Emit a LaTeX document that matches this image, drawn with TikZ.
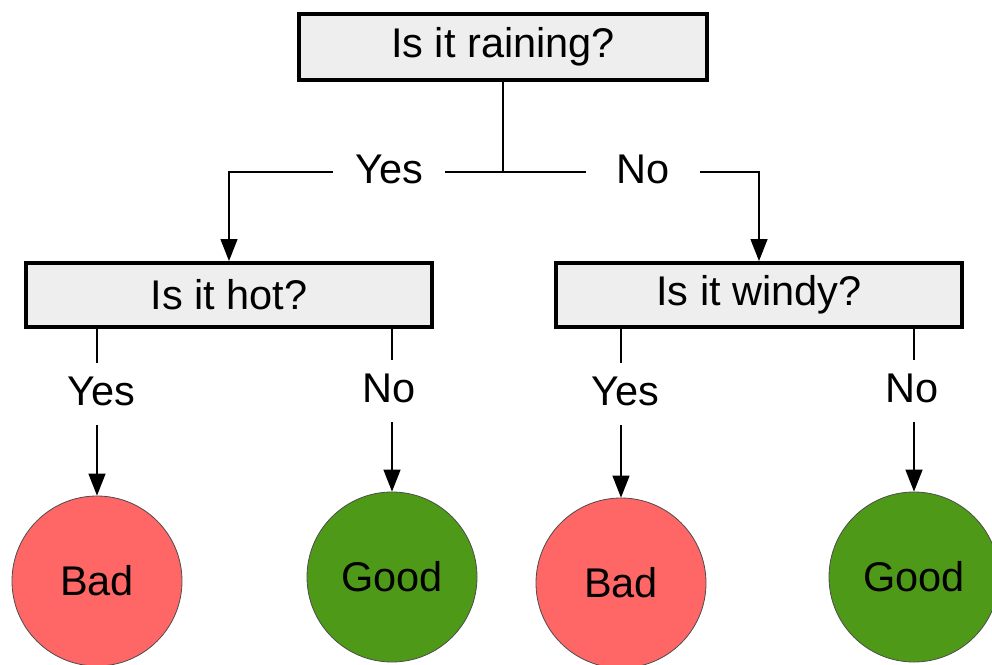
\documentclass[tikz,border=0pt]{standalone}
\usepackage{fontspec}
\setmainfont{Liberation Sans}
\usetikzlibrary{arrows.meta}
\definecolor{boxgray}{HTML}{EEEEEE}
\definecolor{badred}{HTML}{FF6666}
\definecolor{goodgreen}{HTML}{4E9A18}
\tikzset{
  bigfont/.style={font=\fontsize{41.5}{48}\selectfont},
  qbox/.style={draw=black, line width=4pt, fill=boxgray, minimum height=64pt, inner sep=0pt, bigfont},
  lbl/.style={bigfont, text height=26pt, text depth=4pt, inner xsep=22pt, inner ysep=16pt},
  leaf/.style={circle, draw=black!70, line width=0.8pt, minimum size=170pt, inner sep=0pt, bigfont},
  conn/.style={line width=1.4pt},
  arr/.style={conn, -{Triangle[length=22pt,width=17pt]}}
}
\begin{document}
\begin{tikzpicture}[x=1pt,y=-1pt]
\useasboundingbox (0,0) rectangle (992,664);
% question boxes
\node[qbox, minimum width=408pt, minimum height=66pt] (top) at (503,47) {Is it raining?};
\node[qbox, minimum width=406pt] (hot) at (229,295) {Is it hot?};
\node[qbox, minimum width=406pt] (windy) at (759,295) {Is it windy?};
% first level labels
\node[lbl] (y1) at (389,172) {Yes};
\node[lbl, inner xsep=30pt] (n1) at (643,172) {No};
\coordinate (j) at (top.south |- y1);
\draw[conn] (top.south) -- (j);
\draw[conn] (j) -- (y1.east);
\draw[arr] (y1.west) -| (hot.north);
\draw[conn] (j) -- (n1.west);
\draw[arr] (n1.east) -| (windy.north);
% leaves
\node[leaf, fill=badred] (b1) at (97,581) {Bad};
\node[leaf, fill=goodgreen] (g1) at (392,577) {Good};
\node[leaf, fill=badred] (b2) at (621,583) {Bad};
\node[leaf, fill=goodgreen] (g2) at (914,577) {Good};
% second level labels
\node[lbl] (y2) at (101,394) {Yes};
\node[lbl] (n2) at (389,391) {No};
\node[lbl] (y3) at (625,394) {Yes};
\node[lbl] (n3) at (912,391) {No};
\draw[conn] (hot.south -| b1) -- (y2.north -| b1);
\draw[arr] (y2.south -| b1) -- (b1.north);
\draw[conn] (hot.south -| g1) -- (n2.north -| g1);
\draw[arr] (n2.south -| g1) -- (g1.north);
\draw[conn] (windy.south -| b2) -- (y3.north -| b2);
\draw[arr] (y3.south -| b2) -- (b2.north);
\draw[conn] (windy.south -| g2) -- (n3.north -| g2);
\draw[arr] (n3.south -| g2) -- (g2.north);
\end{tikzpicture}
\end{document}
